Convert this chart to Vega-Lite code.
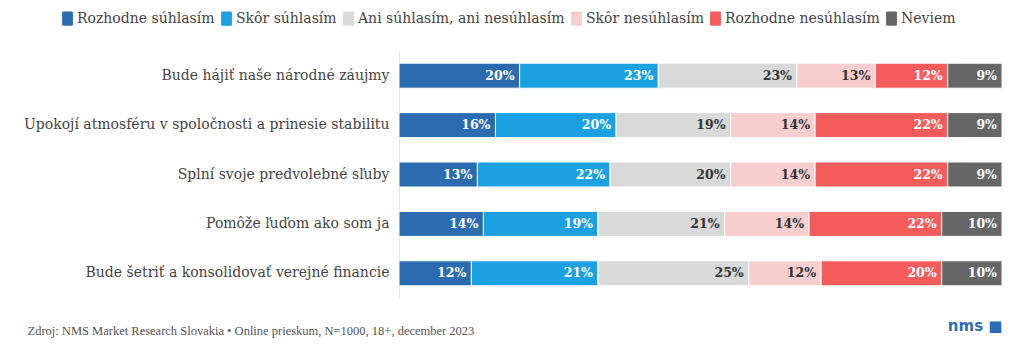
{
  "$schema": "https://vega.github.io/schema/vega-lite/v6.json",
  "autosize": "none",
  "width": 603,
  "height": 247,
  "padding": {"left": 399, "top": 51, "right": 22, "bottom": 59},
  "background": "white",
  "config": {"view": {"stroke": null}, "font": "DejaVu Serif"},
  "title": {"text": "nms ■", "orient": "bottom", "anchor": "end", "font": "DejaVu Sans", "fontSize": 15, "fontWeight": "bold", "color": "#2a6db5", "dy": -22},
  "data": {"values": [
    {"q": "Bude hájiť naše národné záujmy", "cat": "Rozhodne súhlasím", "order": 1, "value": 20},
    {"q": "Bude hájiť naše národné záujmy", "cat": "Skôr súhlasím", "order": 2, "value": 23},
    {"q": "Bude hájiť naše národné záujmy", "cat": "Ani súhlasím, ani nesúhlasím", "order": 3, "value": 23},
    {"q": "Bude hájiť naše národné záujmy", "cat": "Skôr nesúhlasím", "order": 4, "value": 13},
    {"q": "Bude hájiť naše národné záujmy", "cat": "Rozhodne nesúhlasím", "order": 5, "value": 12},
    {"q": "Bude hájiť naše národné záujmy", "cat": "Neviem", "order": 6, "value": 9},
    {"q": "Upokojí atmosféru v spoločnosti a prinesie stabilitu", "cat": "Rozhodne súhlasím", "order": 1, "value": 16},
    {"q": "Upokojí atmosféru v spoločnosti a prinesie stabilitu", "cat": "Skôr súhlasím", "order": 2, "value": 20},
    {"q": "Upokojí atmosféru v spoločnosti a prinesie stabilitu", "cat": "Ani súhlasím, ani nesúhlasím", "order": 3, "value": 19},
    {"q": "Upokojí atmosféru v spoločnosti a prinesie stabilitu", "cat": "Skôr nesúhlasím", "order": 4, "value": 14},
    {"q": "Upokojí atmosféru v spoločnosti a prinesie stabilitu", "cat": "Rozhodne nesúhlasím", "order": 5, "value": 22},
    {"q": "Upokojí atmosféru v spoločnosti a prinesie stabilitu", "cat": "Neviem", "order": 6, "value": 9},
    {"q": "Splní svoje predvolebné sľuby", "cat": "Rozhodne súhlasím", "order": 1, "value": 13},
    {"q": "Splní svoje predvolebné sľuby", "cat": "Skôr súhlasím", "order": 2, "value": 22},
    {"q": "Splní svoje predvolebné sľuby", "cat": "Ani súhlasím, ani nesúhlasím", "order": 3, "value": 20},
    {"q": "Splní svoje predvolebné sľuby", "cat": "Skôr nesúhlasím", "order": 4, "value": 14},
    {"q": "Splní svoje predvolebné sľuby", "cat": "Rozhodne nesúhlasím", "order": 5, "value": 22},
    {"q": "Splní svoje predvolebné sľuby", "cat": "Neviem", "order": 6, "value": 9},
    {"q": "Pomôže ľuďom ako som ja", "cat": "Rozhodne súhlasím", "order": 1, "value": 14},
    {"q": "Pomôže ľuďom ako som ja", "cat": "Skôr súhlasím", "order": 2, "value": 19},
    {"q": "Pomôže ľuďom ako som ja", "cat": "Ani súhlasím, ani nesúhlasím", "order": 3, "value": 21},
    {"q": "Pomôže ľuďom ako som ja", "cat": "Skôr nesúhlasím", "order": 4, "value": 14},
    {"q": "Pomôže ľuďom ako som ja", "cat": "Rozhodne nesúhlasím", "order": 5, "value": 22},
    {"q": "Pomôže ľuďom ako som ja", "cat": "Neviem", "order": 6, "value": 10},
    {"q": "Bude šetriť a konsolidovať verejné financie", "cat": "Rozhodne súhlasím", "order": 1, "value": 12},
    {"q": "Bude šetriť a konsolidovať verejné financie", "cat": "Skôr súhlasím", "order": 2, "value": 21},
    {"q": "Bude šetriť a konsolidovať verejné financie", "cat": "Ani súhlasím, ani nesúhlasím", "order": 3, "value": 25},
    {"q": "Bude šetriť a konsolidovať verejné financie", "cat": "Skôr nesúhlasím", "order": 4, "value": 12},
    {"q": "Bude šetriť a konsolidovať verejné financie", "cat": "Rozhodne nesúhlasím", "order": 5, "value": 20},
    {"q": "Bude šetriť a konsolidovať verejné financie", "cat": "Neviem", "order": 6, "value": 10}
  ]},
  "transform": [
    {"stack": "value", "groupby": ["q"], "sort": [{"field": "order", "order": "ascending"}], "as": ["v0", "v1"]}
  ],
  "encoding": {
    "y": {
      "field": "q", "type": "nominal", "sort": null,
      "scale": {"paddingInner": 0.494, "paddingOuter": 0.247},
      "axis": {"title": null, "ticks": false, "domainColor": "#e3e3e3", "labelPadding": 10, "labelFont": "DejaVu Serif", "labelFontSize": 14, "labelColor": "#444", "labelLimit": 400}
    }
  },
  "layer": [
    {
      "mark": {"type": "bar", "stroke": "white", "strokeWidth": 1},
      "encoding": {
        "x": {
          "field": "v0", "type": "quantitative",
          "scale": {"domain": [0, 100], "nice": false},
          "axis": {"labels": false, "ticks": false, "domain": false, "grid": false,
                   "title": "Zdroj: NMS Market Research Slovakia • Online prieskum, N=1000, 18+, december 2023",
                   "titleX": -372, "titleY": 32, "titleAlign": "left", "titleBaseline": "middle",
                   "titleFont": "Liberation Serif", "titleFontSize": 12.5, "titleFontWeight": "normal", "titleColor": "#555"}
        },
        "x2": {"field": "v1"},
        "color": {
          "field": "cat", "type": "nominal",
          "scale": {
            "domain": ["Rozhodne súhlasím", "Skôr súhlasím", "Ani súhlasím, ani nesúhlasím", "Skôr nesúhlasím", "Rozhodne nesúhlasím", "Neviem"],
            "range": ["#2b6cb0", "#1ba1e2", "#d9d9d9", "#f8cdcd", "#f45b5b", "#666666"]
          },
          "legend": {
            "title": null, "orient": "none", "legendX": -339, "legendY": -40, "direction": "horizontal", "columns": 6,
            "symbolType": "M-0.55,-1 L0.55,-1 Q0.75,-1 0.75,-0.8 L0.75,0.8 Q0.75,1 0.55,1 L-0.55,1 Q-0.75,1 -0.75,0.8 L-0.75,-0.8 Q-0.75,-1 -0.55,-1 Z",
            "symbolSize": 210, "symbolStrokeWidth": 0, "symbolOpacity": 1,
            "labelFont": "DejaVu Serif", "labelFontSize": 14, "labelColor": "#444", "labelOffset": 2, "columnPadding": 4, "labelLimit": 400
          }
        }
      }
    },
    {
      "mark": {"type": "text", "align": "right", "baseline": "middle", "dx": -5, "font": "DejaVu Serif", "fontWeight": "bold", "fontSize": 12.5, "text": {"expr": "datum.value + '%'"}},
      "encoding": {
        "x": {"field": "v1", "type": "quantitative"},
        "color": {
          "condition": {"test": "datum.cat === 'Ani súhlasím, ani nesúhlasím' || datum.cat === 'Skôr nesúhlasím'", "value": "#333333"},
          "value": "white"
        }
      }
    }
  ]
}
